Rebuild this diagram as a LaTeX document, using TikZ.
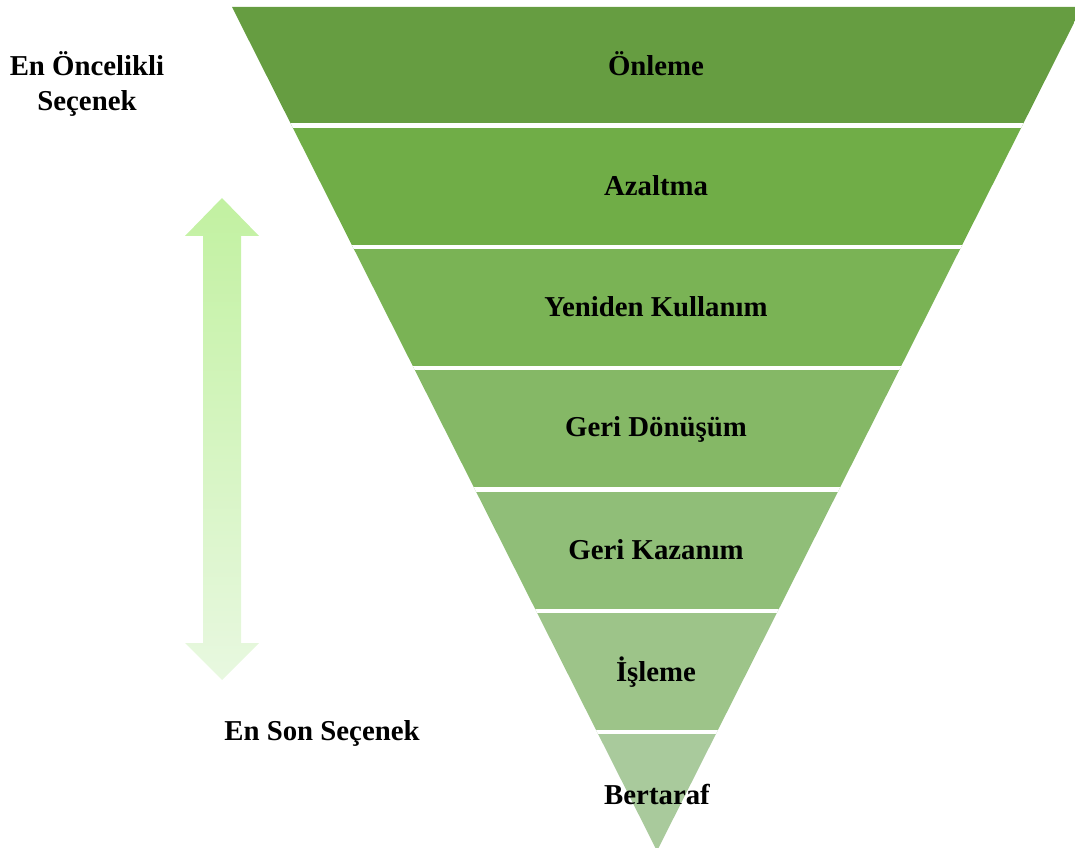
\documentclass[tikz,border=0pt]{standalone}
\usepackage{fontspec}
\setmainfont{Liberation Serif}
\definecolor{katA}{HTML}{669D41}
\definecolor{katB}{HTML}{70AD47}
\definecolor{katC}{HTML}{7AB355}
\definecolor{katD}{HTML}{85B866}
\definecolor{katE}{HTML}{90BE78}
\definecolor{katF}{HTML}{9DC489}
\definecolor{katG}{HTML}{A9CA9C}
\definecolor{okUst}{HTML}{C2F1A1}
\definecolor{okAlt}{HTML}{E8F8E0}
\begin{document}
\begin{tikzpicture}[x=0.75pt,y=-0.75pt,
    yazi/.style={font=\bfseries\fontsize{21.6}{26.5}\selectfont,text=black,align=center},
    bosluk/.style={white,line width=3.4pt}]
\useasboundingbox (0,0) rectangle (1075,848);
% piramit katmanlari
\begin{scope}
  \clip (232,7) -- (1082,7) -- (657,851) -- cycle;
  \foreach \renk [count=\i from 0] in {katA,katB,katC,katD,katE,katF,katG}
    \fill [\renk] (200,{4.3+121.3*\i}) rectangle (1085,{4.3+121.3*(\i+1)});
  \foreach \i in {1,...,6}
    \draw [bosluk] (200,{4.3+121.3*\i}) -- (1085,{4.3+121.3*\i});
\end{scope}
% katman yazilari
\node [yazi] (onleme) at (656,64) {Önleme};
\node [yazi] (azaltma) at (656,186) {Azaltma};
\node [yazi] (yeniden) at (656,307) {Yeniden Kullanım};
\node [yazi] (geridonusum) at (656,429) {Geri Dönüşüm};
\node [yazi] (gerikazanim) at (656,550) {Geri Kazanım};
\node [yazi] (isleme) at (656,672) {İşleme};
\node [yazi] (bertaraf) at (657,794) {Bertaraf};
% oncelik oku
\shade [top color=okUst,bottom color=okAlt]
  (222,198) -- (259,236) -- (241,236) -- (241,643) -- (259,643) -- (222,680)
  -- (185,643) -- (203,643) -- (203,236) -- (185,236) -- cycle;
\node [yazi] (enoncelikli) at (87,84) {En Öncelikli\\Seçenek};
\node [yazi] (enson) at (322,733) {En Son Seçenek};
\end{tikzpicture}
\end{document}
